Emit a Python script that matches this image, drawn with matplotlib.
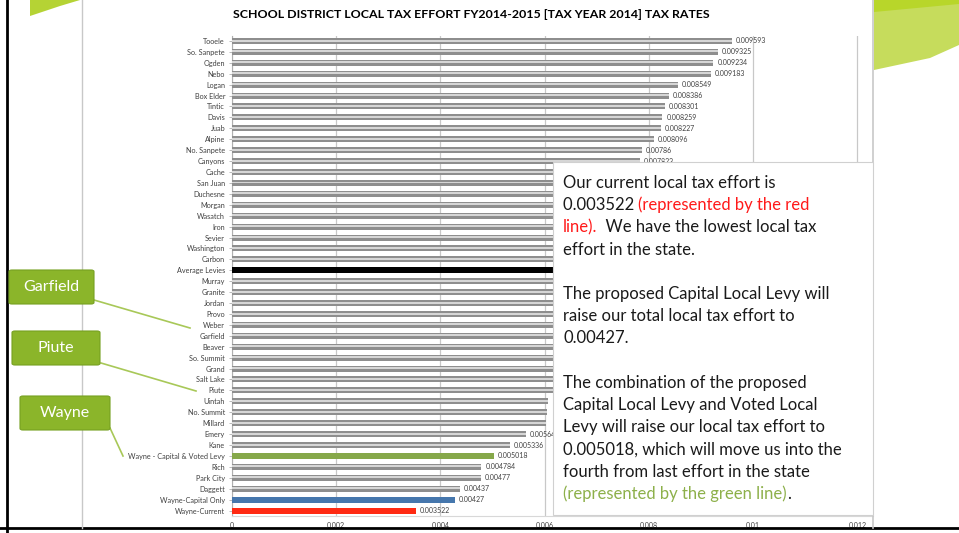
import matplotlib
matplotlib.use("Agg")
import matplotlib.pyplot as plt
from matplotlib.patches import Rectangle, Polygon, FancyBboxPatch
from matplotlib.lines import Line2D

# districts, top to bottom as shown
districts = ["Tooele", "So. Sanpete", "Ogden", "Nebo", "Logan", "Box Elder", "Tintic",
             "Davis", "Juab", "Alpine", "No. Sanpete", "Canyons", "Cache", "San Juan",
             "Duchesne", "Morgan", "Wasatch", "Iron", "Sevier", "Washington", "Carbon",
             "Average Levies", "Murray", "Granite", "Jordan", "Provo", "Weber", "Garfield",
             "Beaver", "So. Summit", "Grand", "Salt Lake", "Piute", "Uintah", "No. Summit",
             "Millard", "Emery", "Kane", "Wayne - Capital & Voted Levy", "Rich", "Park City",
             "Daggett", "Wayne-Capital Only", "Wayne-Current"]
# values hidden behind the text box are estimates
rates = [0.009593, 0.009325, 0.009234, 0.009183, 0.008549, 0.008386, 0.008301,
         0.008259, 0.008227, 0.008096, 0.00786, 0.007823, 0.00775, 0.0075,
         0.0074, 0.0073, 0.0072, 0.0071, 0.0070, 0.0069, 0.0068,
         0.0068, 0.0067, 0.0066, 0.0066, 0.0065, 0.0065, 0.0064,
         0.0064, 0.0063, 0.0063, 0.0062, 0.0062, 0.00606, 0.00604,
         0.00602, 0.00564, 0.005336, 0.005018, 0.004784, 0.00477,
         0.00437, 0.00427, 0.003522]
# labels under the text box are not visible in the original
rate_labels = ["0.009593", "0.009325", "0.009234", "0.009183", "0.008549", "0.008386", "0.008301",
               "0.008259", "0.008227", "0.008096", "0.00786", "0.007823", "", "",
               "", "", "", "", "", "", "",
               "", "", "", "", "", "", "",
               "", "", "", "", "", "", "",
               "", "0.00564", "0.005336", "0.005018", "0.004784", "0.00477",
               "0.00437", "0.00427", "0.003522"]
highlight = {"Average Levies": "#000000",
             "Wayne - Capital & Voted Levy": "#86a84a",
             "Wayne-Capital Only": "#4677ad",
             "Wayne-Current": "#ff2a12"}
xticks = [0, 0.002, 0.004, 0.006, 0.008, 0.01, 0.012]
xtick_labels = ["0", "0.002", "0.004", "0.006", "0.008", "0.01", "0.012"]

plt.rcParams["font.family"] = ["Lato", "DejaVu Sans"]

fig = plt.figure(figsize=(9.59, 5.33), dpi=100)
W, H = 959, 533

def fx(px):
    return px / W

def fy(py):
    return 1 - py / H

# slide decorations
fig.add_artist(Line2D([fx(7), fx(7)], [0, 1], color="black", lw=2))
fig.add_artist(Line2D([0, 1], [fy(528), fy(528)], color="black", lw=2))
fig.add_artist(Line2D([fx(82), fx(82)], [fy(528), 1], color="#c8c8c8", lw=1))
fig.add_artist(Line2D([fx(873), fx(873)], [fy(528), 1], color="#c8c8c8", lw=1.2))
fig.add_artist(Polygon([(fx(30), fy(16)), (fx(30), 1), (fx(80), 1), (fx(80), fy(0)),
                        (fx(60), fy(6))], closed=True, color="#b5d334", lw=0))
fig.add_artist(Polygon([(fx(874), 1), (1, 1), (1, fy(45)), (fx(930), fy(58)),
                        (fx(874), fy(70))], closed=True, color="#c6dc5c", lw=0))
fig.add_artist(Polygon([(fx(874), 1), (1, 1), (1, fy(4)), (fx(874), fy(12))],
                       closed=True, color="#b8d62a", lw=0))

ax = fig.add_axes([fx(232), fy(516), fx(873) - fx(232), (516 - 35.5) / H])
n = len(districts)
ypos = [n - 1 - i for i in range(n)]
for y, name, val, lab in zip(ypos, districts, rates, rate_labels):
    if name in highlight:
        ax.barh(y, val, height=0.55, color=highlight[name], zorder=3)
    else:
        ax.barh(y, val, height=0.55, color="#8e8e8e", zorder=3)
        ax.barh(y + 0.04, val, height=0.18, color="#d6d6d6", zorder=4)
    if lab:
        ax.text(val + 0.00008, y, lab, fontsize=5.0, color="#404040",
                va="center", ha="left", zorder=5)

ax.set_xlim(0, 0.0123)
ax.set_ylim(-0.5, n - 0.5)
ax.set_yticks(ypos)
ax.set_yticklabels(districts, fontsize=5.2, color="#404040")
ax.set_xticks(xticks)
ax.set_xticklabels(xtick_labels, fontsize=5.0, color="#404040")
ax.tick_params(axis="y", length=2, width=0.5, color="#a0a0a0", pad=3)
ax.tick_params(axis="x", length=0, pad=4)
ax.grid(axis="x", color="#c8c8c8", lw=0.9, zorder=0)
ax.set_axisbelow(True)
for side in ["top", "right"]:
    ax.spines[side].set_visible(False)
ax.spines["left"].set_color("#b0b0b0")
ax.spines["bottom"].set_color("#d8d8d8")

fig.text(fx(471), fy(15), "SCHOOL DISTRICT LOCAL TAX EFFORT FY2014-2015 [TAX YEAR 2014] TAX RATES",
         ha="center", va="center", fontsize=8.9, fontweight="bold", color="black")

# callouts
callouts = [("Garfield", 9, 270, 85, 34, (94, 300), (190, 328)),
            ("Piute", 12, 331, 88, 34, (101, 363), (196, 391)),
            ("Wayne", 20, 396, 90, 34, (110, 428), (123, 456))]
for label, x0, y0, w, h, p0, p1 in callouts:
    fig.add_artist(Line2D([fx(p0[0]), fx(p1[0])], [fy(p0[1]), fy(p1[1])],
                          color="#a8c858", lw=1.2, zorder=6))
    fig.add_artist(FancyBboxPatch((fx(x0), fy(y0 + h)), fx(w), h / H,
                                  boxstyle="round,pad=0,rounding_size=0.003",
                                  facecolor="#8bb52a", edgecolor="#76a020", lw=0.8, zorder=7))
    fig.text(fx(x0 + w / 2), fy(y0 + h / 2), label, ha="center", va="center",
             fontsize=11.5, color="white", zorder=8)

# text box
fig.add_artist(Rectangle((fx(553), fy(515)), fx(873 - 553), (515 - 162) / H,
                         facecolor="white", edgecolor="#d0d0d0", lw=0.8, zorder=10))
black = "#1a1a1a"
red = "#ff1a1a"
green = "#8db04a"
lines = [
    [("Our current local tax effort is", black)],
    [("0.003522 ", black), ("(represented by the red", red)],
    [("line).", red), ("  We have the lowest local tax", black)],
    [("effort in the state.", black)],
    [],
    [("The proposed Capital Local Levy will", black)],
    [("raise our total local tax effort to", black)],
    [("0.00427.", black)],
    [],
    [("The combination of the proposed", black)],
    [("Capital Local Levy and Voted Local", black)],
    [("Levy will raise our local tax effort to", black)],
    [("0.005018, which will move us into the", black)],
    [("fourth from last effort in the state", black)],
    [("(represented by the green line)", green), (".", black)],
]
fig.canvas.draw()
renderer = fig.canvas.get_renderer()
for k, parts in enumerate(lines):
    ypix = 183 + k * 22.2
    xpix = 563
    for txt, col in parts:
        t = fig.text(fx(xpix), fy(ypix), txt, ha="left", va="center",
                     fontsize=12.0, color=col, zorder=11)
        bb = t.get_window_extent(renderer=renderer)
        xpix += bb.width

fig.savefig("out.png", dpi=100)
